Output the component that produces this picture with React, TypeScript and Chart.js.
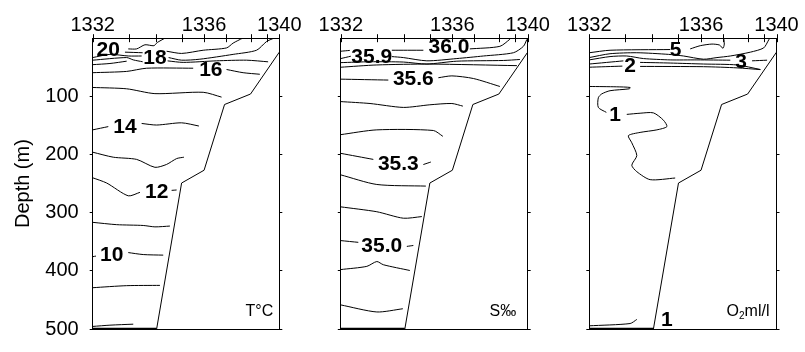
import { useEffect, useRef } from 'react';
import { Chart, registerables } from 'chart.js';

Chart.register(...registerables);

type Pt = [number, number];
type Label = { text: string; x: number; d: number };

const FONT = "Arial, 'Liberation Sans', Helvetica, sans-serif";

// Station numbers along the section and their distance along the track
const STATIONS = [1332, 1333, 1334, 1335, 1336, 1337, 1338, 1339, 1340];
const STATION_DIST = [0, 36, 63, 89, 111.5, 133, 158.5, 174.3, 186.8];
const LABELLED_STATIONS = [1332, 1336, 1340];
const DEPTH_TICKS = [100, 200, 300, 400, 500];

// Sea floor under the section
const BOTTOM: Pt[] = [[64, 500], [89, 249], [111.5, 227], [132, 114], [158, 96], [186.8, 24]];
const SEABED: Pt[] = [[0, 500], [64, 500]];

// Temperature isotherms (°C); each is a list of line pieces
const T20: Pt[][] = [[[35.6, 18.4], [44, 18.4], [52.3, 11.3], [61.3, 12.9], [64.6, 7.5], [72.3, 0]]];
const T19: Pt[][] = [[[32.3, 24], [50, 25]], [[74, 22.4], [89, 26.2], [110.6, 20.7], [134, 16.7], [140.6, 8.4], [150, 0]]];
const T18: Pt[][] = [[[0, 33.3], [17.3, 27.8], [35.6, 30.6], [49, 30.6]], [[76, 33.3], [89, 37.8], [107.3, 36.1], [140.6, 27.8], [164, 20.7], [174, 5.8], [181.3, 0]]];
const T17: Pt[][] = [[[0, 37.8], [34, 33.3], [40.6, 37.3], [50, 40.5]], [[75, 39], [90.6, 41.6], [124, 38.9], [154, 37.8], [175.6, 40.6]]];
const T165: Pt[][] = [[[0, 45.5], [17.3, 43.5], [34, 39.5]]];
const T16: Pt[][] = [[[0, 59.3], [34, 57.1], [54, 51.6], [100.6, 51.6]], [[134, 53.8], [150.6, 59.3], [167.3, 62]]];
const T15: Pt[][] = [[[0, 84.7], [34, 87], [62.3, 95.3], [110.6, 93], [129, 101.3]]];
const T14: Pt[][] = [[[0, 157.6], [15.6, 152]], [[49, 146.6], [64, 149.3], [89, 145.5], [106.3, 151]]];
const T13: Pt[][] = [[[0, 196], [20.6, 204.6], [44, 208.4], [62.3, 222], [74, 217], [84, 207], [91.3, 204.6]]];
const T12: Pt[][] = [[[0, 240], [14, 249], [35.6, 271], [47.3, 265]], [[79, 261.6], [84, 261]]];
const T11: Pt[][] = [[[0, 316.6], [24, 320.6], [50.6, 322], [62.3, 324.4], [77.3, 323]]];
const T10: Pt[][] = [[[0, 375.7], [3.3, 374.6]], [[35.6, 368.6], [50.6, 372], [70.6, 373]]];
const T9: Pt[][] = [[[0, 429], [34, 425.5], [67.3, 425]]];
const T8: Pt[][] = [[[0, 495.6], [17.3, 493.4], [40.6, 491.7]]];
const T_LABELS: Label[] = [
  { text: '20', x: 15.6, d: 19.6 },
  { text: '18', x: 62.3, d: 33.3 },
  { text: '16', x: 118.3, d: 53.8 },
  { text: '14', x: 32.3, d: 151 },
  { text: '12', x: 64, d: 262.6 },
  { text: '10', x: 19, d: 371.9 },
];

// Salinity isohalines (‰)
const S360: Pt[][] = [[[0, 22.4], [9, 21]], [[51, 20.7], [82.5, 20.7]], [[129, 18.4], [159, 14], [169, 1.8], [170, 0]]];
const S359: Pt[][] = [[[0, 35], [10, 31]], [[51, 31.6], [62.5, 33.3], [86, 38.9], [116, 35], [142.5, 30.6], [172.5, 25], [182.5, 14], [186, 2]]];
const S358: Pt[][] = [[[0, 42], [29.2, 40.5], [62.5, 41], [86, 44.4], [116, 39.5], [162.5, 38.3], [179, 36.6]]];
const S357: Pt[][] = [[[0, 49.9], [36, 46], [89, 44.5], [176, 47.2]]];
const S356: Pt[][] = [[[0, 70.4], [47.5, 72]], [[97.5, 68], [111, 64.8], [132.5, 69.3], [159, 83]]];
const S355: Pt[][] = [[[0, 109], [29.2, 112.3], [62.5, 119], [89, 114.5], [111, 112.3], [122, 116.8]]];
const S354: Pt[][] = [[[0, 165.8], [36, 157.6], [92.5, 158.7], [102, 168.7]]];
const S353: Pt[][] = [[[0, 198], [32.5, 208.4]], [[82.5, 217.2], [90, 212.9]]];
const S352: Pt[][] = [[[0, 235], [36, 251.5], [85, 254.3]]];
const S351: Pt[][] = [[[0, 290], [36, 298.4], [62.5, 309.5], [81, 306.7]]];
const S350: Pt[][] = [[[0, 348], [17.5, 351]], [[66, 358], [72.5, 356.4]]];
const S349: Pt[][] = [[[0, 397.8], [26, 392.3], [36, 384], [42.5, 389.5], [69, 399.4]]];
const S348: Pt[][] = [[[0, 458.6], [36, 470.7], [62, 465.2]]];
const S_LABELS: Label[] = [
  { text: '35.9', x: 30.9, d: 30.6 },
  { text: '36.0', x: 108.2, d: 14 },
  { text: '35.6', x: 72.5, d: 69.3 },
  { text: '35.3', x: 57.5, d: 214.5 },
  { text: '35.0', x: 40.9, d: 356.4 },
];

// Dissolved oxygen (ml/l)
const O5: Pt[][] = [[[0, 25], [20.7, 20.7], [80.7, 19.5]], [[100.7, 18.4], [110.7, 12.9], [122.4, 10.1], [130, 11.8], [133.4, 17.4], [134.7, 10], [134.2, 0]]];
const O4: Pt[][] = [[[0, 33.3], [20.7, 26.7], [47.4, 25], [79, 27.8], [94, 30.6], [114, 36.1], [127.4, 33.3], [140.7, 30.6], [160.7, 24], [174, 16.7], [179, 3], [180, 0]]];
const O3: Pt[][] = [[[0, 37.3], [20.7, 31.6], [37.4, 30.6], [54, 35], [80.7, 37.3], [107.4, 37.3], [140.7, 37.8]], [[162.4, 38.9], [177.4, 37.8]]];
const O25: Pt[][] = [[[0, 44.4], [34, 39]], [[50.7, 41.6], [80.7, 42.7], [114, 44.4], [147.4, 46], [170.7, 53.8]]];
const O2: Pt[][] = [[[0, 49.9], [33, 48]], [[50.7, 48.5], [114, 49], [147.4, 51], [170.7, 54]]];
const O1: Pt[][] = [
  [[0, 83], [27.4, 83.6], [40.7, 84.7], [40, 87], [20.7, 90.3], [12.4, 95.8], [9, 102.4], [9, 119], [17, 127.5]],
  [[37.4, 131], [50.7, 129], [64, 128.4], [74, 141], [77.4, 152], [67.4, 157.6], [50.7, 162], [39, 167.5], [42.4, 179.8], [47.4, 201.8], [42.4, 218.4], [47.4, 229.5], [60.7, 243.2], [85.7, 240.4]],
];
const O1_DEEP: Pt[][] = [[[0, 494.5], [40.7, 490.6], [47.4, 483.6]]];
const O_LABELS: Label[] = [
  { text: '5', x: 86, d: 19.5 },
  { text: '2', x: 40.7, d: 47.2 },
  { text: '3', x: 151.5, d: 38.9 },
  { text: '1', x: 25.7, d: 130 },
  { text: '1', x: 77.4, d: 483.5 },
];

type PanelSpec = {
  left: number;
  width: number;
  plotLeft: number;
  plotRight: number;
  contours: Pt[][][];
  labels: Label[];
  name: string[];
  nameInset: number;
  depthLabels: boolean;
};

const PLOT_TOP = 38.2;
const PLOT_BOTTOM = 340;
const HEIGHT = 352;

const PANELS: PanelSpec[] = [
  { left: 0, width: 310, plotLeft: 92.7, plotRight: 279.3, contours: [T20, T19, T18, T17, T165, T16, T15, T14, T13, T12, T11, T10, T9, T8], labels: T_LABELS, name: ['T°C'], nameInset: 6, depthLabels: true },
  { left: 310, width: 250, plotLeft: 340.8, plotRight: 527.7, contours: [S360, S359, S358, S357, S356, S355, S354, S353, S352, S351, S350, S349, S348], labels: S_LABELS, name: ['S‰'], nameInset: 11.5, depthLabels: false },
  { left: 560, width: 245, plotLeft: 589.3, plotRight: 776.5, contours: [O5, O4, O3, O25, O2, O1, O1_DEEP], labels: O_LABELS, name: ['O', '2', 'ml/l'], nameInset: 7, depthLabels: false },
];

const sectionDecor = {
  id: 'sectionDecor',
  afterDatasetsDraw(chart: any, _args: any, opts: any) {
    const { ctx, chartArea } = chart;
    const xs = chart.scales.x;
    const ys = chart.scales.y;
    ctx.save();
    // station tick marks crossing the top axis
    ctx.strokeStyle = '#000';
    ctx.lineWidth = 1;
    ctx.beginPath();
    for (const t of xs.ticks) {
      const px = Math.round(xs.getPixelForValue(t.value)) + 0.5;
      ctx.moveTo(px, chartArea.top - 4);
      ctx.lineTo(px, chartArea.top + 4);
    }
    ctx.stroke();

    // contour values
    ctx.fillStyle = '#000';
    ctx.font = `bold 21px ${FONT}`;
    ctx.textAlign = 'center';
    ctx.textBaseline = 'middle';
    for (const l of opts.labels as Label[]) {
      ctx.fillText(l.text, xs.getPixelForValue(l.x), ys.getPixelForValue(l.d) + 1);
    }

    // panel variable name
    const parts: string[] = opts.name;
    const right = chartArea.right - opts.nameInset;
    const base = chartArea.bottom - 13.3;
    ctx.textAlign = 'left';
    ctx.textBaseline = 'alphabetic';
    const big = `16px ${FONT}`;
    const small = `10px ${FONT}`;
    const widths = parts.map((p, i) => {
      ctx.font = i === 1 ? small : big;
      return ctx.measureText(p).width;
    });
    let x = right - widths.reduce((a, b) => a + b, 0);
    parts.forEach((p, i) => {
      ctx.font = i === 1 ? small : big;
      ctx.fillText(p, x, i === 1 ? base + 3 : base);
      x += widths[i];
    });
    ctx.restore();
  },
};

function buildDatasets(contours: Pt[][][]) {
  const sets: any[] = [];
  for (const c of contours) {
    for (const seg of c) {
      sets.push({
        data: seg.map(([x, y]) => ({ x, y })),
        showLine: true,
        borderColor: '#000',
        borderWidth: 1,
        pointRadius: 0,
        tension: 0.25,
        fill: false,
      });
    }
  }
  sets.push({ data: BOTTOM.map(([x, y]) => ({ x, y })), showLine: true, borderColor: '#000', borderWidth: 1, pointRadius: 0, tension: 0 });
  sets.push({ data: SEABED.map(([x, y]) => ({ x, y })), showLine: true, borderColor: '#000', borderWidth: 2.5, pointRadius: 0, tension: 0 });
  return sets;
}

function Panel({ spec }: { spec: PanelSpec }) {
  const ref = useRef<HTMLCanvasElement>(null);
  useEffect(() => {
    const leftW = spec.plotLeft - spec.left;
    const rightW = spec.left + spec.width - spec.plotRight;
    const xMax = STATION_DIST[STATION_DIST.length - 1];
    const depthTicks = (s: any) => {
      s.ticks = DEPTH_TICKS.map((v) => ({ value: v }));
    };
    const chart = new Chart(ref.current as HTMLCanvasElement, {
      type: 'scatter',
      data: { datasets: buildDatasets(spec.contours) },
      options: {
        responsive: false,
        animation: false,
        events: [],
        layout: { padding: 0 },
        plugins: {
          legend: { display: false },
          tooltip: { enabled: false },
          sectionDecor: { labels: spec.labels, name: spec.name, nameInset: spec.nameInset },
        } as any,
        scales: {
          x: {
            type: 'linear',
            position: 'top',
            min: 0,
            max: xMax,
            afterBuildTicks: (s: any) => {
              s.ticks = STATION_DIST.map((v) => ({ value: v }));
            },
            afterFit: (s: any) => {
              s.height = PLOT_TOP;
            },
            ticks: {
              autoSkip: false,
              maxRotation: 0,
              padding: 1,
              color: '#000',
              font: { family: FONT, size: 20 },
              callback: (_v: any, i: number) => (LABELLED_STATIONS.includes(STATIONS[i]) ? String(STATIONS[i]) : ''),
            },
            grid: { display: false, drawOnChartArea: false, drawTicks: false },
            border: { color: '#000', width: 1 },
          },
          x2: {
            type: 'linear',
            position: 'bottom',
            min: 0,
            max: xMax,
            afterFit: (s: any) => {
              s.height = HEIGHT - PLOT_BOTTOM;
            },
            ticks: { display: false },
            grid: { display: false },
            border: { color: '#000', width: 1 },
          },
          y: {
            type: 'linear',
            position: 'left',
            reverse: true,
            min: 0,
            max: 500,
            afterBuildTicks: depthTicks,
            afterFit: (s: any) => {
              s.width = leftW;
            },
            ticks: {
              padding: 11,
              color: '#000',
              font: { family: FONT, size: 20 },
              callback: (v: any) => (spec.depthLabels ? String(v) : ''),
            },
            grid: { drawOnChartArea: false, tickLength: 3, color: '#000', lineWidth: 1 },
            border: { color: '#000', width: 1 },
            title: {
              display: spec.depthLabels,
              text: 'Depth (m)',
              color: '#000',
              font: { family: FONT, size: 20 },
              padding: { top: 11, bottom: 0 },
            },
          },
          y2: {
            type: 'linear',
            position: 'right',
            reverse: true,
            min: 0,
            max: 500,
            afterBuildTicks: depthTicks,
            afterFit: (s: any) => {
              s.width = rightW;
            },
            ticks: { color: '#000', callback: () => '' },
            grid: { drawOnChartArea: false, tickLength: 3, color: '#000', lineWidth: 1 },
            border: { color: '#000', width: 1 },
          },
        },
      } as any,
      plugins: [sectionDecor],
    });
    return () => chart.destroy();
  }, [spec]);
  return (
    <canvas
      ref={ref}
      width={spec.width}
      height={HEIGHT}
      style={{ position: 'absolute', left: spec.left, top: 0, width: spec.width, height: HEIGHT }}
    />
  );
}

export default function App() {
  return (
    <div style={{ position: 'absolute', left: 0, top: 0, width: 805, height: HEIGHT, background: '#fff' }}>
      {PANELS.map((p) => (
        <Panel key={p.left} spec={p} />
      ))}
    </div>
  );
}
